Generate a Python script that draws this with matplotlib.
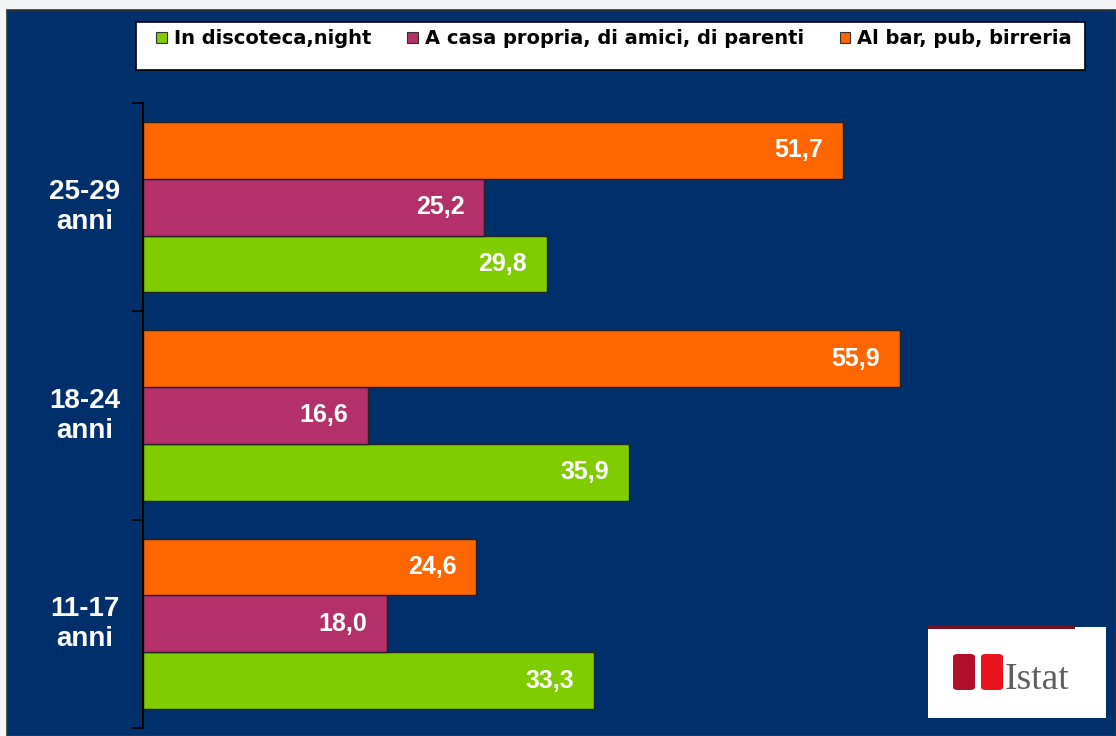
import matplotlib.pyplot as plt
from matplotlib.patches import Patch, Rectangle, FancyBboxPatch

plt.rcParams['font.family'] = ['Liberation Sans', 'DejaVu Sans']

# data
groups = ["11-17\nanni", "18-24\nanni", "25-29\nanni"]
series = ["In discoteca,night", "A casa propria, di amici, di parenti", "Al bar, pub, birreria"]
discoteca = [33.3, 35.9, 29.8]
casa = [18.0, 16.6, 25.2]
bar = [24.6, 55.9, 51.7]
colors = ["#7FCC00", "#B3306A", "#FF6600"]

navy = "#00306B"

fig = plt.figure(figsize=(11.16, 7.36), dpi=100, facecolor="#F3F5F7")
W, H = 1116, 736

# navy slide background
fig.patches.append(Rectangle((7 / W, 0), 1 - 7 / W, 1 - 10 / H, transform=fig.transFigure,
                             facecolor=navy, edgecolor="#333333", linewidth=1.2, zorder=0))

ax = fig.add_axes([143 / W, 8 / H, 975 / W, 625 / H])
ax.set_zorder(2)
ax.patch.set_alpha(0)

h = 0.273
ys = range(len(groups))
for vals, off, col in [(discoteca, -h, colors[0]), (casa, 0, colors[1]), (bar, h, colors[2])]:
    pos = [y + off for y in ys]
    ax.barh(pos, vals, height=h, color=col, edgecolor="#222222", linewidth=1)
    for p, v in zip(pos, vals):
        ax.text(v - 1.45, p, f"{v:.1f}".replace(".", ","), ha="right", va="center",
                color="white", fontsize=18, fontweight="bold")

ax.set_xlim(0, 72)
ax.set_ylim(-0.5, 2.5)
ax.set_xticks([])
ax.set_yticks([-0.5, 0.5, 1.5, 2.5])
ax.set_yticklabels([])
ax.tick_params(axis="y", direction="out", length=8, width=1.2, color="black")
for s in ["top", "right", "bottom"]:
    ax.spines[s].set_visible(False)
ax.spines["left"].set_color("black")
ax.spines["left"].set_linewidth(1.5)

for y, g in zip(ys, groups):
    ax.text(-0.0595, y, g, transform=ax.get_yaxis_transform(), ha="center", va="center",
            color="white", fontsize=20, fontweight="bold", linespacing=1.2)

# legend box
fig.patches.append(Rectangle((136 / W, 1 - 70 / H), 949 / W, 48 / H, transform=fig.transFigure,
                             facecolor="white", edgecolor="black", linewidth=1.2, zorder=1))
handles = [Patch(facecolor=c, edgecolor="#333333", linewidth=0.8) for c in colors]
leg = fig.legend(handles, series, loc="center", bbox_to_anchor=(614 / W, 1 - 39 / H), ncol=3,
                 frameon=False, prop={"family": "DejaVu Sans", "weight": "bold", "size": 14},
                 handlelength=0.55, handleheight=0.55, handletextpad=0.35, columnspacing=1.85)
leg.set_zorder(3)

# Istat logo
fig.patches.append(Rectangle((928 / W, 1 - 718 / H), 178 / W, 91 / H, transform=fig.transFigure,
                             facecolor="white", edgecolor="none", zorder=1))
fig.patches.append(Rectangle((928 / W, 1 - 629 / H), 147 / W, 3 / H, transform=fig.transFigure,
                             facecolor="#7A1020", edgecolor="none", zorder=2))
fig.patches.append(FancyBboxPatch((953 / W, 1 - 690 / H), 22 / W, 36 / H, transform=fig.transFigure,
                                  boxstyle="round,pad=0,rounding_size=0.004",
                                  facecolor="#B0102A", edgecolor="none", zorder=2))
fig.patches.append(FancyBboxPatch((981 / W, 1 - 690 / H), 22 / W, 36 / H, transform=fig.transFigure,
                                  boxstyle="round,pad=0,rounding_size=0.004",
                                  facecolor="#E8141E", edgecolor="none", zorder=2))
fig.text(1005 / W, 1 - 689 / H, "Istat", ha="left", va="baseline", fontsize=27,
         family="Liberation Serif", color="#5E5E5E", zorder=3)

fig.savefig("out.png", dpi=100, facecolor=fig.get_facecolor())
